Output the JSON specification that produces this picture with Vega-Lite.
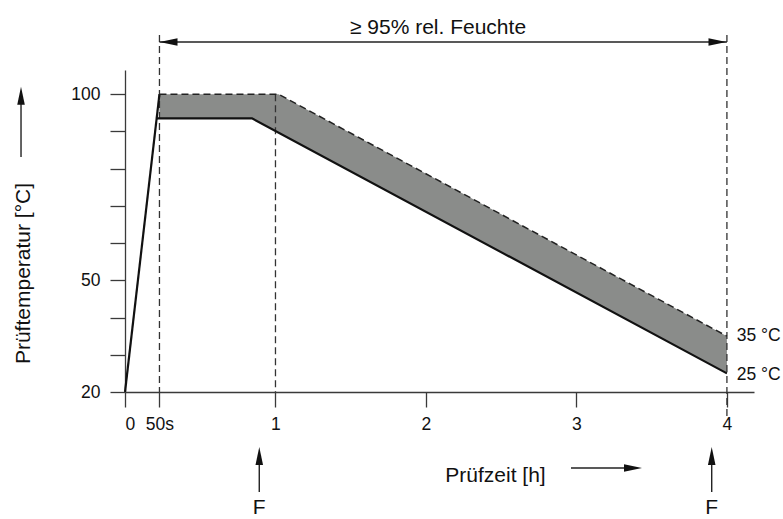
{
  "$schema": "https://vega.github.io/schema/vega-lite/v6.json",
  "width": 629,
  "height": 322,
  "autosize": "none",
  "padding": {"left": 125, "top": 70, "right": 29, "bottom": 127},
  "background": "white",
  "config": {
    "view": {"stroke": null},
    "font": "Liberation Sans",
    "axis": {
      "grid": false,
      "domainColor": "#3a3a3a",
      "domainWidth": 1.3,
      "tickColor": "#3a3a3a",
      "tickWidth": 1.3,
      "tickSize": 15,
      "labelFont": "Liberation Sans",
      "labelFontSize": 17.5,
      "labelColor": "#111",
      "titleFont": "Liberation Sans",
      "titleFontSize": 21,
      "titleFontWeight": "normal",
      "titleColor": "#111"
    }
  },
  "datasets": {
    "band": [
      {"x": 0.229, "y": 93.5, "y2": 100},
      {"x": 0.844, "y": 93.5, "y2": 100},
      {"x": 1.02, "y": 89.7, "y2": 100},
      {"x": 4, "y": 25, "y2": 35}
    ],
    "curves": [
      {"series": "rise", "x": 0, "y": 20},
      {"series": "rise", "x": 0.229, "y": 100},
      {"series": "lower", "x": 0.21, "y": 93.5},
      {"series": "lower", "x": 0.844, "y": 93.5},
      {"series": "lower", "x": 4, "y": 25},
      {"series": "upper", "x": 0.229, "y": 100},
      {"series": "upper", "x": 1.02, "y": 100},
      {"series": "upper", "x": 4, "y": 35}
    ],
    "guides": [
      {"x": 0.229, "y": 115.9, "y2": 20},
      {"x": 1, "y": 100, "y2": 20},
      {"x": 4, "y": 115.9, "y2": 13}
    ],
    "arrowLines": [
      {"x": -0.691, "x2": -0.691, "y": 99.6, "y2": 83.13},
      {"x": 0.229, "x2": 4, "y": 114.02, "y2": 114.02},
      {"x": 2.9639, "x2": 3.3759, "y": -0.416, "y2": -0.416},
      {"x": 0.8923, "x2": 0.8923, "y": 2.807, "y2": -6.863},
      {"x": 3.899, "x2": 3.899, "y": 2.807, "y2": -6.863}
    ],
    "arrowHeads": [
      {"dir": "up", "x": -0.691, "y": 99.6},
      {"dir": "left", "x": 0.2891, "y": 114.02},
      {"dir": "right", "x": 3.9374, "y": 114.02},
      {"dir": "right", "x": 3.3759, "y": -0.416},
      {"dir": "up", "x": 0.8923, "y": 2.807},
      {"dir": "up", "x": 3.899, "y": 2.807}
    ],
    "bigText": [
      {"label": "≥ 95% rel. Feuchte", "x": 2.0801, "y": 116.17},
      {"label": "F", "x": 0.8923, "y": -12.8},
      {"label": "F", "x": 3.899, "y": -12.8}
    ],
    "endText": [
      {"label": "35 °C", "x": 4.065, "y": 33.7},
      {"label": "25 °C", "x": 4.065, "y": 23.22}
    ]
  },
  "encoding": {
    "x": {
      "field": "x",
      "type": "quantitative",
      "scale": {"domain": [0, 4.18], "nice": false, "zero": false},
      "axis": {
        "values": [0, 0.229, 1, 2, 3, 4],
        "labelExpr": "datum.value == 0 ? '0' : (datum.value < 0.5 ? '50s' : format(datum.value, 'd'))",
        "labelPadding": 8,
        "title": "Prüfzeit [h]",
        "titleX": 370,
        "titleY": 89,
        "titleAlign": "center",
        "titleBaseline": "alphabetic",
        "titleAnchor": null
      }
    },
    "y": {
      "field": "y",
      "type": "quantitative",
      "scale": {"domain": [20, 106.5], "nice": false, "zero": false},
      "axis": {
        "values": [20, 30, 40, 50, 60, 70, 80, 90, 100],
        "labelExpr": "(datum.value == 20 || datum.value == 50 || datum.value == 100) ? datum.label : ''",
        "labelPadding": 10,
        "title": "Prüftemperatur [°C]",
        "titleAngle": -90,
        "titleX": -96,
        "titleY": 203,
        "titleAlign": "center",
        "titleBaseline": "alphabetic",
        "titleAnchor": null
      }
    }
  },
  "layer": [
    {
      "data": {"name": "band"},
      "mark": {"type": "area", "color": "#8a8c8a", "opacity": 1},
      "encoding": {"y2": {"field": "y2"}}
    },
    {
      "data": {"name": "guides"},
      "mark": {"type": "rule", "color": "#333", "strokeWidth": 1.3, "strokeDash": [7, 4]},
      "encoding": {"y2": {"field": "y2"}}
    },
    {
      "data": {"name": "curves"},
      "transform": [{"filter": "datum.series != 'upper'"}],
      "mark": {"type": "line", "color": "#111", "strokeWidth": 2.2},
      "encoding": {"detail": {"field": "series"}}
    },
    {
      "data": {"name": "curves"},
      "transform": [{"filter": "datum.series == 'upper'"}],
      "mark": {"type": "line", "color": "#222", "strokeWidth": 1.5, "strokeDash": [7, 4]},
      "encoding": {"detail": {"field": "series"}}
    },
    {
      "data": {"name": "arrowLines"},
      "mark": {"type": "rule", "color": "#222", "strokeWidth": 1.4},
      "encoding": {"x2": {"field": "x2"}, "y2": {"field": "y2"}}
    },
    {
      "data": {"name": "arrowHeads"},
      "mark": {"type": "point", "filled": true, "color": "#111", "opacity": 1, "size": 324},
      "encoding": {
        "shape": {
          "field": "dir",
          "type": "nominal",
          "scale": {
            "domain": ["up", "left", "right"],
            "range": ["M0,-1L0.42,1L-0.42,1Z", "M-1,0L1,-0.42L1,0.42Z", "M1,0L-1,-0.42L-1,0.42Z"]
          },
          "legend": null
        }
      }
    },
    {
      "data": {"name": "bigText"},
      "mark": {"type": "text", "fontSize": 21, "align": "center", "baseline": "alphabetic", "color": "#111"},
      "encoding": {"text": {"field": "label"}}
    },
    {
      "data": {"name": "endText"},
      "mark": {"type": "text", "fontSize": 17.5, "align": "left", "baseline": "alphabetic", "color": "#111"},
      "encoding": {"text": {"field": "label"}}
    }
  ]
}
